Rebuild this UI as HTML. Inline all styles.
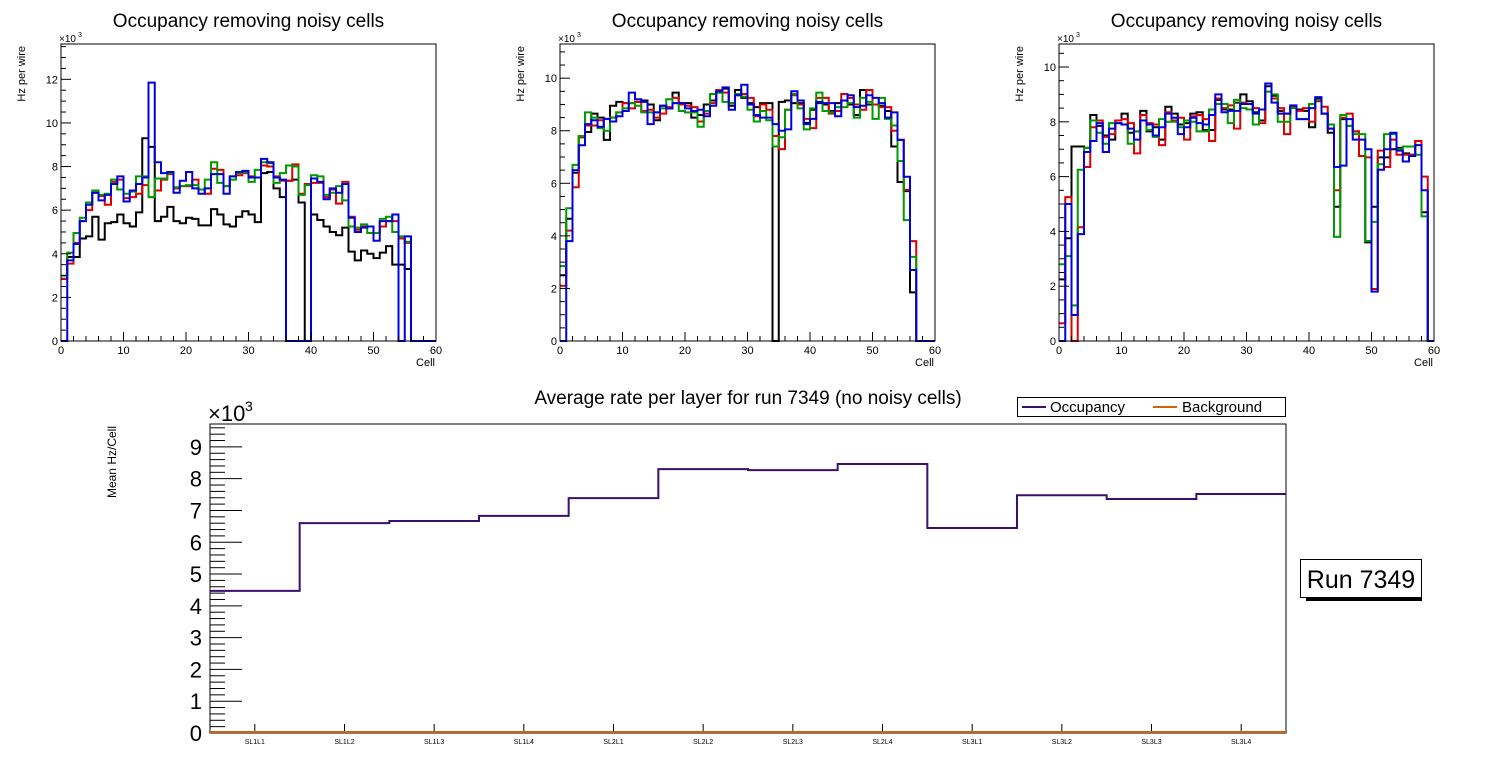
<!DOCTYPE html>
<html><head><meta charset="utf-8">
<style>
html,body{margin:0;padding:0;background:#fff;}
svg{display:block;font-family:"Liberation Sans",sans-serif;}
</style></head>
<body>
<svg id="c" width="1496" height="772" viewBox="0 0 1496 772" xmlns="http://www.w3.org/2000/svg"></svg>
<script>
// ---- data: panel 1 ----
const p1Black=[2.85,3.85,3.85,4.7,4.8,5.7,4.65,5.4,5.45,5.8,5.4,5.25,5.9,9.3,8.9,5.5,5.7,6.15,5.5,5.4,5.65,5.6,5.3,5.3,6.05,5.8,5.35,5.25,5.7,5.95,5.8,5.45,7.7,7.75,7.0,6.6,7.35,7.4,6.35,0,5.8,5.55,5.25,5.0,4.85,5.2,4.1,3.7,4.15,4.0,3.8,4.05,4.35,3.5,3.5,3.3,0,0,0,0];
const p1Red=[2.85,3.55,4.5,5.5,6.0,6.8,6.65,6.25,7.3,7.4,6.55,6.6,6.75,7.15,6.6,6.9,7.4,7.65,7.0,7.1,7.1,7.4,6.95,6.75,7.9,7.85,7.1,7.55,7.6,7.7,7.55,7.5,8.05,8.0,7.55,7.35,7.35,8.1,6.75,7.2,7.25,7.25,6.6,6.95,6.3,7.3,5.7,5.1,5.25,5.25,4.95,5.25,5.5,5.5,4.7,4.5,0,0,0,0];
const p1Green=[3.0,4.05,4.95,5.65,6.35,6.9,6.7,6.75,7.4,6.95,6.75,6.85,7.55,7.55,6.6,7.45,7.45,7.7,7.05,7.1,7.15,7.15,6.95,7.4,8.2,7.25,7.1,7.4,7.7,7.75,7.3,7.85,8.2,8.15,7.25,7.7,8.05,8.0,6.7,7.15,7.6,7.55,6.7,6.8,7.1,6.45,5.25,5.2,5.35,4.95,4.95,5.6,5.7,5.0,4.8,4.55,0,0,0,0];
const p1Blue=[0,3.7,4.45,5.5,6.25,6.8,6.45,6.7,7.2,7.55,6.4,6.9,7.2,7.5,11.85,8.2,7.7,7.75,6.8,7.35,7.75,7.0,6.75,7.0,7.65,7.65,6.75,7.55,7.75,7.8,7.5,7.5,8.35,8.2,7.5,7.4,0,0,0,0,7.45,7.3,6.5,7.0,6.8,7.2,5.65,5.0,5.2,5.25,4.6,5.5,5.5,5.8,0,4.8,0,0,0,0];
// ---- data: panel 2 ----
const p2Black=[2.5,4.65,6.4,7.75,7.95,8.65,8.5,7.65,8.95,9.1,9.05,9.05,9.1,9.15,9.0,8.4,8.95,8.85,9.45,9.05,9.05,8.5,8.6,9.0,9.15,9.45,9.6,8.95,9.55,9.25,9.05,8.9,9.05,9.05,0,9.1,9.15,9.05,9.05,8.3,8.8,9.05,9.0,8.75,9.05,9.15,9.0,8.6,9.55,9.0,9.0,8.95,8.75,7.4,6.05,5.7,1.85,0,0,0];
const p2Red=[2.1,4.2,5.85,7.75,8.2,8.2,8.4,8.45,8.5,8.7,9.05,8.85,9.1,8.75,8.8,8.5,8.65,8.9,9.25,9.0,8.95,8.9,8.35,8.65,9.05,9.55,9.45,9.05,9.35,9.4,9.25,8.55,9.0,8.8,7.8,7.3,8.8,9.35,9.0,8.45,8.1,9.25,9.25,8.65,8.75,9.4,9.25,9.0,8.8,9.55,9.0,8.9,8.9,8.0,7.65,5.75,3.8,0,0,0];
const p2Green=[2.85,5.05,6.7,7.8,8.7,8.5,8.1,8.0,8.5,8.7,8.85,9.05,8.95,8.7,8.7,8.7,8.85,9.2,9.05,8.75,8.7,8.7,8.15,8.75,9.4,9.45,9.1,9.05,9.4,9.3,8.8,8.35,8.75,8.4,7.4,7.75,8.8,9.4,8.85,8.05,8.85,9.45,8.75,8.7,8.9,8.9,9.05,8.5,9.25,9.1,8.45,9.25,8.45,8.2,6.85,4.6,3.2,0,0,0];
const p2Blue=[0,3.8,6.5,7.45,8.25,8.4,8.15,8.45,8.35,8.55,8.75,9.45,9.2,9.1,8.25,8.7,8.95,8.85,9.05,9.05,8.85,8.75,8.8,8.55,8.95,9.5,9.65,8.8,9.35,9.75,9.0,8.6,8.5,8.5,8.25,8.0,8.05,9.5,9.15,8.25,8.45,9.1,9.05,9.05,8.55,9.15,9.35,8.9,8.95,9.35,9.25,9.05,8.5,8.7,7.65,6.25,2.7,0,0,0];
// ---- data: panel 3 ----
const p3Black=[2.25,3.75,7.1,7.1,7.05,8.25,7.85,7.5,7.35,8.05,8.3,7.6,7.65,8.4,7.65,7.8,7.35,8.55,8.3,7.9,7.95,8.3,8.35,7.7,7.7,8.8,8.45,8.45,8.7,9.0,8.75,8.35,8.05,9.3,8.95,8.4,8.3,8.55,8.45,8.4,7.8,8.85,8.3,7.6,4.9,8.1,7.85,7.65,6.75,3.6,4.9,6.7,6.7,7.0,7.05,6.85,6.8,7.3,4.7,0];
const p3Red=[0.65,5.25,0,4.15,6.35,7.8,8.05,7.45,7.55,8.05,8.1,7.95,6.85,8.25,7.95,7.9,7.15,8.35,8.05,8.15,7.35,8.2,8.25,8.1,7.3,8.85,8.5,8.6,7.75,8.7,8.65,8.5,7.95,9.1,8.85,8.5,7.55,8.55,8.4,8.5,8.0,8.75,8.55,7.75,5.5,8.15,8.3,7.65,6.75,6.7,1.9,6.95,6.35,7.35,6.8,6.8,6.8,7.3,6.0,0];
const p3Green=[2.8,3.1,1.3,6.25,7.05,8.05,7.6,7.2,7.95,7.95,7.9,7.2,7.65,8.05,7.7,7.45,8.1,8.0,8.0,7.8,8.05,8.0,7.65,7.65,8.45,8.65,8.65,7.95,8.8,8.5,8.45,7.9,8.45,9.1,9.0,8.0,8.0,8.5,8.1,8.1,8.65,8.8,8.3,7.9,3.8,8.25,7.85,7.55,7.55,3.65,4.35,6.45,7.55,7.55,7.0,7.1,7.1,6.8,4.55,0];
const p3Blue=[0,5.0,0.95,3.9,6.9,7.3,7.95,6.9,7.75,7.95,7.9,7.75,7.35,8.05,7.9,7.5,7.8,8.3,8.15,7.55,7.8,8.15,7.95,7.9,8.25,9.0,8.35,8.4,8.4,8.65,8.65,8.3,8.45,9.4,8.7,8.3,8.3,8.6,8.1,8.1,8.5,8.9,8.3,7.75,6.35,6.4,8.1,7.35,7.35,7.0,1.8,6.25,7.0,7.6,6.95,6.55,6.75,7.15,5.5,0];
// ---- data: summary ----
const layers=["SL1L1","SL1L2","SL1L3","SL1L4","SL2L1","SL2L2","SL2L3","SL2L4","SL3L1","SL3L2","SL3L3","SL3L4"];
const occupancy=[4.47,6.6,6.67,6.83,7.39,8.3,8.27,8.46,6.45,7.48,7.36,7.52];
const background=[0.03,0.03,0.03,0.03,0.03,0.03,0.03,0.03,0.03,0.03,0.03,0.03];
const yTicksTop=[0,2,4,6,8,10,12];
const xTicksTop=[0,10,20,30,40,50,60];
const yTicksBottom=[0,1,2,3,4,5,6,7,8,9];

const NS="http://www.w3.org/2000/svg";
const svg=document.getElementById('c');
function mk(tag,attrs,parent,text){
  const e=document.createElementNS(NS,tag);
  for(const k in attrs)e.setAttribute(k,attrs[k]);
  if(text!==undefined)e.textContent=text;
  (parent||svg).appendChild(e);return e;
}
const colors={black:"#000000",red:"#dd0000",green:"#009900",blue:"#0000dd"};

function panel(idx,x0,x1,ymax,series){
  const top=44,bot=341;
  const g=mk('g',{});
  
  
  const sx=v=>x0+(x1-x0)*v/60;
  const sy=v=>bot-(bot-top)*v/ymax;
  for(const s of series){
    const vals=s.vals;
    let d='M'+sx(0)+','+sy(vals[0]);
    for(let i=0;i<vals.length;i++){
      if(i>0)d+=' V'+sy(vals[i]);
      d+=' H'+sx(i+1);
    }
    d+=' V'+sy(0);
    const p=mk('path',{d:d,fill:'none',stroke:colors[s.c],'stroke-width':2},g);
    
    
  }
  const fr=mk('rect',{x:x0,y:top,width:x1-x0,height:bot-top,fill:'none',stroke:'#000','stroke-width':1},g);
  
  
  for(let v=0;v<=ymax+1e-6;v+=0.5){
    const major=Math.abs(v/2-Math.round(v/2))<1e-6;
    mk('line',{x1:x0,x2:x0+(major?10:5),y1:sy(v),y2:sy(v),stroke:'#000','stroke-width':1},g);
  }
  for(const t of yTicksTop){ if(t>ymax)continue;
    const tl=mk('text',{x:x0-3,y:sy(t)+4,'font-size':11,'text-anchor':'end'},g,String(t));
    
    
  }
  for(let v=0;v<=60;v+=2){
    const major=v%10===0;
    mk('line',{x1:sx(v),x2:sx(v),y1:bot,y2:bot-(major?9:5),stroke:'#000','stroke-width':1},g);
  }
  for(const t of xTicksTop){
    const tl=mk('text',{x:sx(t),y:bot+13,'font-size':11,'text-anchor':'middle'},g,String(t));
    
    
  }
  const ex=mk('text',{x:x0-2,y:top-2,'font-size':10},g,'×10');
  
  
  mk('text',{x:x0+17,y:top-7,'font-size':7},g,'3');
  const xl=mk('text',{x:x1-1,y:366,'font-size':11,'text-anchor':'end'},g,'Cell');
  
  
  const yl=mk('text',{x:0,y:0,'font-size':11,'text-anchor':'end',transform:'translate('+(x0-36)+',46) rotate(-90)'},g,'Hz per wire');
  
  
  const ti=mk('text',{x:(x0+x1)/2,y:27,'font-size':19,'text-anchor':'middle'},g,'Occupancy removing noisy cells');
  
  
}
panel(1,61,436,13.62,[{c:'black',vals:p1Black},{c:'red',vals:p1Red},{c:'green',vals:p1Green},{c:'blue',vals:p1Blue}]);
panel(2,560,935,11.3,[{c:'black',vals:p2Black},{c:'red',vals:p2Red},{c:'green',vals:p2Green},{c:'blue',vals:p2Blue}]);
panel(3,1059,1434,10.84,[{c:'black',vals:p3Black},{c:'red',vals:p3Red},{c:'green',vals:p3Green},{c:'blue',vals:p3Blue}]);

(function(){
  const x0=210,x1=1286,top=424,bot=733,ymax=9.72;
  const n=layers.length,bw=(x1-x0)/n;
  const sx=i=>x0+bw*i;
  const sy=v=>bot-(bot-top)*v/ymax;
  const g=mk('g',{});
  
  
  function step(vals,col,name){
    let d='M'+sx(0)+','+sy(vals[0]);
    for(let i=0;i<vals.length;i++){ if(i>0)d+=' V'+sy(vals[i]); d+=' H'+sx(i+1); }
    const p=mk('path',{d:d,fill:'none',stroke:col,'stroke-width':2},g);
    
    
  }
  mk('rect',{x:x0,y:top,width:x1-x0,height:bot-top,fill:'none',stroke:'#000','stroke-width':1},g);
  for(let v=0;v<=ymax+1e-6;v+=0.2){
    const major=Math.abs(v-Math.round(v))<1e-6;
    mk('line',{x1:x0,x2:x0+(major?32:15),y1:sy(v),y2:sy(v),stroke:'#000','stroke-width':1},g);
  }
  for(const t of yTicksBottom){
    const tl=mk('text',{x:x0-8,y:sy(t)+8,'font-size':22,'text-anchor':'end'},g,String(t));
    
    
  }
  for(let i=0;i<n;i++){
    mk('line',{x1:sx(i+0.5),x2:sx(i+0.5),y1:bot,y2:bot-9,stroke:'#000','stroke-width':1},g);
    const tl=mk('text',{x:sx(i+0.5),y:744,'font-size':7,'text-anchor':'middle'},g,layers[i]);
    
    
  }
  step(occupancy,'#3b0f6f','occupancy-line');
  step(background,'#d2620a','background-line');
  const ex=mk('text',{x:x0-2,y:top-3,'font-size':22},g,'×10');
  
  
  mk('text',{x:x0+35,y:top-13,'font-size':14},g,'3');
  const yl=mk('text',{x:0,y:0,'font-size':12,'text-anchor':'end',transform:'translate(116,426) rotate(-90)'},g,'Mean Hz/Cell');
  
  
  const ti=mk('text',{x:748,y:404,'font-size':19,'text-anchor':'middle'},g,'Average rate per layer for run 7349 (no noisy cells)');
  
  
  const lg=mk('g',{},g);
  
  
  mk('rect',{x:1017.5,y:397.5,width:268,height:19,fill:'#fff',stroke:'#000','stroke-width':1},lg);
  mk('line',{x1:1022,x2:1046,y1:407,y2:407,stroke:'#3b0f6f','stroke-width':2},lg);
  const l1=mk('text',{x:1050,y:412,'font-size':15},lg,'Occupancy');
  
  
  mk('line',{x1:1153,x2:1177,y1:407,y2:407,stroke:'#d2620a','stroke-width':2},lg);
  const l2=mk('text',{x:1182,y:412,'font-size':15},lg,'Background');
  
  
  const rb=mk('g',{});
  
  
  mk('rect',{x:1306,y:597,width:116,height:4,fill:'#000'},rb);
  mk('rect',{x:1300.5,y:559.5,width:121,height:38,fill:'#fff',stroke:'#000','stroke-width':1},rb);
  mk('text',{x:1361,y:588,'font-size':25,'text-anchor':'middle'},rb,'Run 7349');
})();
</script>
</body></html>
